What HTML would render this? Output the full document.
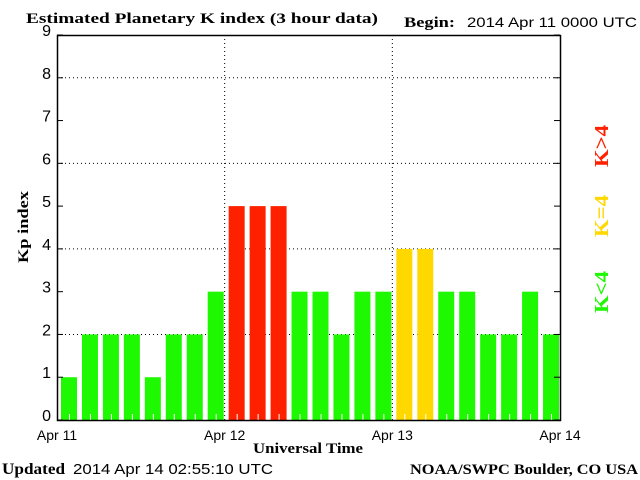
<!DOCTYPE html>
<html><head><meta charset="utf-8"><style>
html,body{margin:0;padding:0;background:#fff;}
svg{display:block;}
text{font-family:"Liberation Sans",sans-serif;}
.serif{font-family:"Liberation Serif",serif;font-weight:bold;}
</style></head><body>
<svg id="chart" width="640" height="480" xmlns="http://www.w3.org/2000/svg">
<text class="serif" x="26" y="23" font-size="15" textLength="352" lengthAdjust="spacingAndGlyphs">Estimated Planetary K index (3 hour data)</text>
<text class="serif" x="404" y="27" font-size="15" textLength="51" lengthAdjust="spacingAndGlyphs">Begin:</text>
<text x="467" y="27" font-size="14" textLength="170" lengthAdjust="spacingAndGlyphs">2014 Apr 11 0000 UTC</text>
<g id="grid"></g>
<g id="bars"></g>
<g id="axes"></g>
<text class="serif" transform="translate(28,227) rotate(-90)" text-anchor="middle" font-size="15" textLength="72" lengthAdjust="spacingAndGlyphs">Kp index</text>
<text class="serif" x="308" y="453" text-anchor="middle" font-size="15" textLength="110" lengthAdjust="spacingAndGlyphs">Universal Time</text>
<text class="serif" transform="translate(608,146) rotate(-90)" text-anchor="middle" font-size="20" fill="#ff2000" textLength="42" lengthAdjust="spacingAndGlyphs">K&gt;4</text>
<text class="serif" transform="translate(608,216) rotate(-90)" text-anchor="middle" font-size="20" fill="#ffd800" textLength="42" lengthAdjust="spacingAndGlyphs">K=4</text>
<text class="serif" transform="translate(608,292) rotate(-90)" text-anchor="middle" font-size="20" fill="#1ef800" textLength="42" lengthAdjust="spacingAndGlyphs">K&lt;4</text>
<text class="serif" x="2" y="474" font-size="16" textLength="63" lengthAdjust="spacingAndGlyphs">Updated</text>
<text x="73" y="474" font-size="15" textLength="200" lengthAdjust="spacingAndGlyphs">2014 Apr 14 02:55:10 UTC</text>
<text class="serif" x="410" y="474" font-size="15" textLength="228" lengthAdjust="spacingAndGlyphs">NOAA/SWPC Boulder, CO USA</text>
</svg>
<script>
const values = [1,2,2,2,1,2,2,3,5,5,5,3,3,2,3,3,4,4,3,3,2,2,3,2];
const yTicks = [0,1,2,3,4,5,6,7,8,9];
const dayLabels = ["Apr 11","Apr 12","Apr 13","Apr 14"];
const NS="http://www.w3.org/2000/svg";
const L=57,R=560,T=35,B=420;
const x=i=>L+(R-L)*i/24;
const y=v=>B-(B-T)*v/9;
function mk(tag,attrs,parent){const e=document.createElementNS(NS,tag);for(const k in attrs)e.setAttribute(k,attrs[k]);parent.appendChild(e);return e;}
const grid=document.getElementById('grid'),bars=document.getElementById('bars'),axes=document.getElementById('axes');
yTicks.forEach(v=>{
  if(v>0&&v<9&&v%2===0){const g=mk('line',{x1:L,x2:R,y1:y(v),y2:y(v),stroke:'#000','stroke-width':1,'stroke-dasharray':'1,3'},grid);
  
  }
  const t=mk('text',{x:51,y:y(v)+1,'text-anchor':'end','font-size':16},axes);t.textContent=v;
  
  
  mk('line',{x1:L,x2:L+6,y1:y(v),y2:y(v),stroke:'#000'},axes);
  mk('line',{x1:R-6,x2:R,y1:y(v),y2:y(v),stroke:'#000'},axes);
});
dayLabels.forEach((d,j)=>{
  const xx=x(j*8);
  if(j>0&&j<3){const g=mk('line',{x1:xx,x2:xx,y1:T,y2:B,stroke:'#000','stroke-dasharray':'1,3'},grid);
  
  }
  const t=mk('text',{x:xx,y:440,'text-anchor':'middle','font-size':14},axes);t.textContent=d;
  
  
});
values.forEach((v,i)=>{
  const c=v>4?'#ff2000':(v===4?'#ffd800':'#1ef800');
  const r=mk('rect',{x:x(i)+4,y:y(v),width:16,height:B-y(v),fill:c},bars);
  
  
  mk('line',{x1:x(i)+12.5,x2:x(i)+12.5,y1:B-6,y2:B,stroke:'#fff'},bars);
});
mk('rect',{x:L+0.5,y:T+0.5,width:R-L,height:B-T,fill:'none',stroke:'#000','stroke-width':1.5},axes);
</script>
</body></html>
